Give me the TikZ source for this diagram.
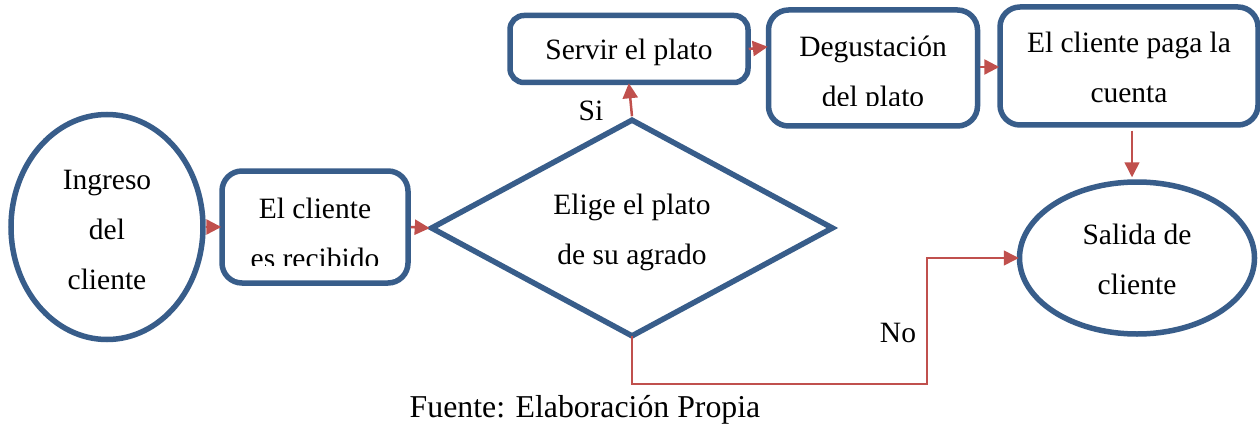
\documentclass[tikz,border=0pt]{standalone}
\usepackage{fontspec}
\setmainfont{Liberation Serif}
\usetikzlibrary{shapes.geometric,arrows.meta}
\definecolor{bl}{HTML}{385D8A}
\definecolor{rd}{HTML}{C0504D}
\newcommand\dn[1]{\rule{0pt}{#1pt}}
\tikzset{
 x=1pt,y=-1pt,
 txt/.style={font=\fontsize{29.5}{50}\selectfont,align=center,text=black},
 boxn/.style={draw=bl,line width=5.5pt,rounded corners=20pt,fill=white,txt,inner sep=0pt,anchor=center},
 ell/.style={ellipse,draw=bl,line width=5.5pt,fill=white,txt,inner sep=0pt},
 dia/.style={diamond,draw=bl,line width=5.5pt,fill=white,txt,inner sep=0pt},
 arr/.style={draw=rd,line width=2.5pt,-{Triangle[length=15pt,width=15pt]},shorten >=-2pt},
 arrthin/.style={draw=rd,line width=1.5pt,-{Triangle[length=15pt,width=15pt]}},
 lab/.style={font=\fontsize{29.5}{34}\selectfont,inner sep=0pt},
}
\begin{document}
\begin{tikzpicture}
\useasboundingbox (0,0) rectangle (1260,425);
\fill[white] (0,0) rectangle (1260,425);
\node[ell,minimum width=192pt,minimum height=225pt] (ing) at (107,227) {\dn{26}Ingreso\\del\\cliente};
\node[boxn,minimum width=186pt,minimum height=112pt] (rec) at (315,227) {\dn{33}El cliente\\es recibido};
\fill[white] (235,265.5) rectangle (395,279);
\node[dia,minimum width=403pt,minimum height=218pt] (eli) at (632,228) {};
\node[txt] (elit) at (632,232) {Elige el plato\\de su agrado};
\node[boxn,minimum width=238pt,minimum height=67pt,rounded corners=14pt] (ser) at (629,49) {\dn{27}Servir el plato};
\node[boxn,minimum width=209pt,minimum height=116pt] (deg) at (873,68) {\dn{33}Degustación\\del plato};
\fill[white] (785,106.5) rectangle (960,122);
\node[boxn,minimum width=258pt,minimum height=118pt] (pag) at (1129,66) {\dn{24}El cliente paga la\\cuenta};
\node[ell,minimum width=235pt,minimum height=152pt] (sal) at (1137,258) {\dn{24}Salida de\\cliente};
\draw[arr] (ing.east) -- (rec.west);
\draw[arr] (rec.east) -- (eli.west);
\draw[arr] (eli.north) -- (ser.south);
\draw[arr] (ser.east) ++(-2,0) -- (deg.west|-0,47);
\draw[arr] (deg.east|-0,67) -- (pag.west|-0,67);
\draw[arrthin] (pag.south) ++(3,3) coordinate (p1) -- ([yshift=2pt]p1|-sal.north);
\draw[arrthin,shorten <=-4pt,shorten >=-2pt] (eli.south) -- ++(0,44) -| (927,258) -- (sal.west);
\node[lab] (si) at (591,111) {Si};
\node[lab] (no) at (898,333) {No};
\node[font=\fontsize{31.8}{36}\selectfont,inner sep=0pt] (fue) at (585,410) {Fuente: Elaboración Propia};
\end{tikzpicture}
\end{document}
